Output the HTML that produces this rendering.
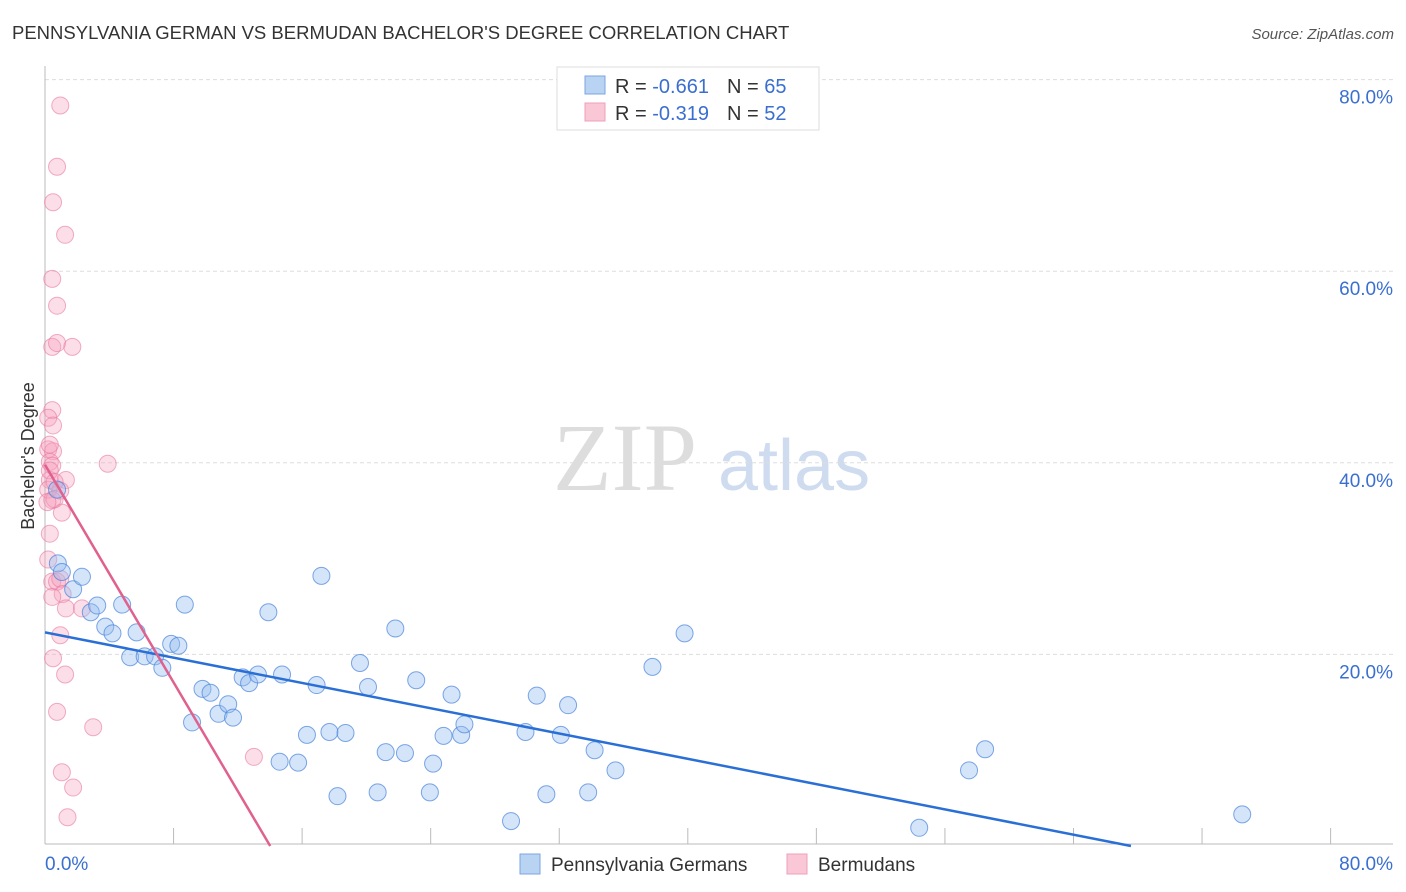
<!DOCTYPE html>
<html><head><meta charset="utf-8"><style>
body{margin:0;background:#fff;font-family:"Liberation Sans",sans-serif}
svg{display:block}
</style></head><body>
<svg id="chart" width="1406" height="892" xmlns="http://www.w3.org/2000/svg">
<text x="12" y="39" font-size="18.5" fill="#333">PENNSYLVANIA GERMAN VS BERMUDAN BACHELOR'S DEGREE CORRELATION CHART</text>
<text x="1394" y="39" font-size="15" fill="#555" font-style="italic" text-anchor="end">Source: ZipAtlas.com</text>
<text x="553" y="490" font-size="96" fill="#ddd" font-family="Liberation Serif">ZIP</text>
<text x="718" y="490" font-size="72" fill="#cfdcf0">atlas</text>
<g id="grid"></g>
<g id="axes"></g>
<g id="pts"></g>
<g id="lines"></g>
<text transform="translate(34,456) rotate(-90)" font-size="18" fill="#333" text-anchor="middle">Bachelor's Degree</text>
<g>
<rect x="557" y="67" width="262" height="63" fill="#fff" stroke="#ddd"/>
<rect x="585" y="76" width="20" height="18" fill="#b9d3f3" stroke="#7aa6e0"/>
<rect x="585" y="103" width="20" height="18" fill="#fac7d6" stroke="#eda0b8"/>
<text x="615" y="93" font-size="20" fill="#333">R = <tspan fill="#3a6fd0">-0.661</tspan><tspan dx="18">N = </tspan><tspan fill="#3a6fd0">65</tspan></text>
<text x="615" y="120" font-size="20" fill="#333">R = <tspan fill="#3a6fd0">-0.319</tspan><tspan dx="18">N = </tspan><tspan fill="#3a6fd0">52</tspan></text>
</g>
<g>
<rect x="520" y="854" width="20" height="20" fill="#b9d3f3" stroke="#7aa6e0"/>
<text x="551" y="871" font-size="19" fill="#333">Pennsylvania Germans</text>
<rect x="787" y="854" width="20" height="20" fill="#fac7d6" stroke="#eda0b8"/>
<text x="818" y="871" font-size="19" fill="#333">Bermudans</text>
</g>
</svg>
<script>
const yTicks=[20,40,60,80];
const xTickLabels=["0.0%","80.0%"];
const blueX=[0.75,0.8,1.05,1.75,2.3,2.85,3.25,3.75,4.2,4.8,5.3,5.7,6.2,6.85,7.3,7.85,8.3,8.7,9.15,9.8,10.3,10.8,11.4,11.7,12.3,12.7,13.25,13.9,14.6,14.75,15.75,16.3,16.9,17.2,17.7,18.2,18.7,19.6,20.1,20.7,21.2,21.8,22.4,23.1,23.95,24.15,24.8,25.3,25.9,26.1,29.0,29.9,30.6,31.2,32.1,32.55,33.8,34.2,35.5,37.8,39.8,54.4,57.5,58.5,74.5];
const blueY=[37.2,29.5,28.6,26.8,28.1,24.4,25.1,22.9,22.2,25.2,19.7,22.3,19.8,19.8,18.6,21.1,20.9,25.2,12.9,16.4,16.0,13.8,14.8,13.4,17.6,17.0,17.9,24.4,8.8,17.9,8.7,11.6,16.8,28.2,11.9,5.2,11.8,19.1,16.6,5.6,9.8,22.7,9.7,17.3,5.6,8.6,11.5,15.8,11.6,12.7,2.6,11.9,15.7,5.4,11.6,14.7,5.6,10.0,7.9,18.7,22.2,1.9,7.9,10.1,3.3];
const pinkX=[0.95,0.75,0.5,1.25,0.45,0.75,0.45,0.75,1.7,0.45,0.2,0.5,0.2,0.5,0.3,0.45,3.9,0.3,1.3,0.2,0.95,0.45,0.6,1.05,0.3,0.2,0.45,0.75,0.95,1.1,0.45,1.3,2.3,0.95,0.5,1.25,0.75,3.0,13.0,1.05,1.75,1.4,0.3,0.6,0.15,0.3];
const pinkY=[77.3,70.9,67.2,63.8,59.2,56.4,52.1,52.5,52.1,45.5,44.7,43.9,41.4,41.2,40.1,39.7,39.9,38.2,38.2,37.2,37.1,36.1,36.2,34.8,32.6,29.9,27.6,27.6,27.9,26.3,26.0,24.8,24.8,22.0,19.6,17.9,14.0,12.4,9.3,7.7,6.1,3.0,39.2,38.0,35.9,41.9];
const blueFit=[22.3,-0.330];
const pinkFit=[39.8,-2.84];
const sx=v=>45+v*16.07, sy=v=>846-v*9.58;
const NS="http://www.w3.org/2000/svg";
function mk(t,a,p){const e=document.createElementNS(NS,t);for(const k in a)e.setAttribute(k,a[k]);document.getElementById(p).appendChild(e);return e;}
yTicks.forEach(v=>{
 const l=mk('line',{x1:45,x2:1393,y1:sy(v),y2:sy(v),stroke:'#ddd','stroke-dasharray':'4,3'},'grid');
 
 
 const t=mk('text',{x:1393,y:sy(v)+24,'font-size':19,fill:'#3a6fd0','text-anchor':'end'},'grid');
 
 
 t.textContent=v.toFixed(1)+'%';
});
const ya=mk('line',{x1:45,x2:45,y1:66,y2:844,stroke:'#bbb'},'axes');


const xa=mk('line',{x1:45,x2:1393,y1:844,y2:844,stroke:'#bbb'},'axes');


for(let i=0;i<=10;i++){const tk=mk('line',{x1:sx(i*8),x2:sx(i*8),y1:828,y2:844,stroke:'#bbb'},'axes');
 
 }
const xl0=mk('text',{x:45,y:870,'font-size':19,fill:'#3a6fd0'},'axes');xl0.textContent=xTickLabels[0];


const xl1=mk('text',{x:1393,y:870,'font-size':19,fill:'#3a6fd0','text-anchor':'end'},'axes');xl1.textContent=xTickLabels[1];


pinkX.forEach((x,i)=>{const c=mk('circle',{cx:sx(x),cy:sy(pinkY[i]),r:8.5,fill:'rgba(245,160,188,0.35)',stroke:'rgba(232,120,160,0.6)'},'pts');
 
 });
blueX.forEach((x,i)=>{const c=mk('circle',{cx:sx(x),cy:sy(blueY[i]),r:8.5,fill:'rgba(150,190,240,0.4)',stroke:'rgba(70,130,220,0.7)'},'pts');
 
 });
const bx1=-blueFit[0]/blueFit[1];
const bl=mk('line',{x1:sx(0),y1:sy(blueFit[0]),x2:sx(bx1),y2:sy(0),stroke:'#2a6fd6','stroke-width':2.5},'lines');


const px1=-pinkFit[0]/pinkFit[1];
const pl=mk('line',{x1:sx(0),y1:sy(pinkFit[0]),x2:sx(px1),y2:sy(0),stroke:'#e0608e','stroke-width':2.5},'lines');


</script>
</body></html>
